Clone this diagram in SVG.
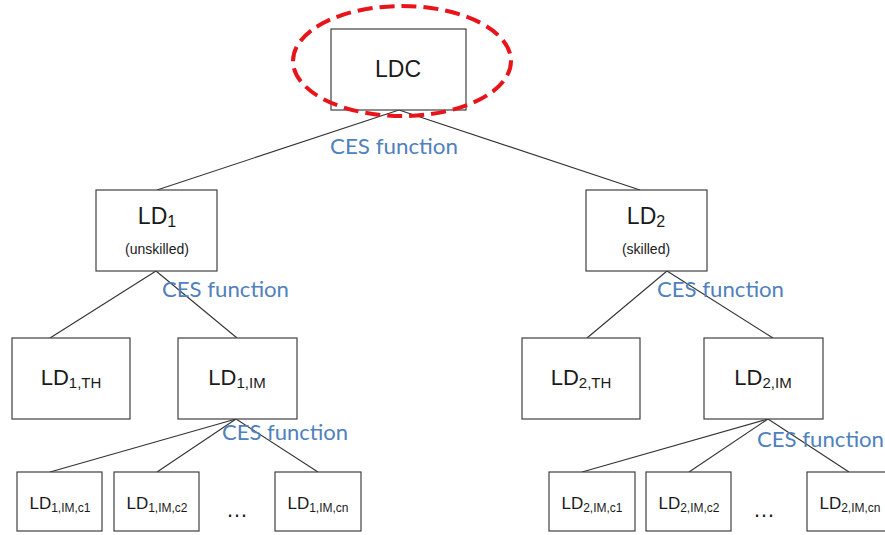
<svg xmlns="http://www.w3.org/2000/svg" width="885" height="535" viewBox="0 0 885 535">
<style>
.box{fill:#fff;stroke:#404040;stroke-width:1.2}
.lbl{font-family:"Liberation Sans",Arial,sans-serif;fill:#1a1a1a;text-anchor:middle}
.ces{font-family:Lato,"Open Sans",sans-serif;font-size:22px;fill:#4f81bd}
.conn line{stroke:#333;stroke-width:1.1}
</style>
<rect width="885" height="535" fill="#fff"/>
<g id="connectors" class="conn">
<line x1="399" y1="110" x2="157" y2="190"/>
<line x1="399" y1="110" x2="640" y2="190"/>
<line x1="156" y1="271" x2="50" y2="338"/>
<line x1="156" y1="271" x2="237" y2="338"/>
<line x1="667" y1="271" x2="587" y2="338"/>
<line x1="667" y1="271" x2="773" y2="338"/>
<line x1="236" y1="419" x2="50" y2="472"/>
<line x1="236" y1="419" x2="157" y2="472"/>
<line x1="236" y1="419" x2="318" y2="472"/>
<line x1="768" y1="419" x2="582" y2="472"/>
<line x1="768" y1="419" x2="689" y2="472"/>
<line x1="768" y1="419" x2="849" y2="472"/>
</g>
<g id="LDC">
<rect class="box" x="331" y="29" width="135" height="81"/>
<text class="lbl" x="398" y="77" font-size="23">LDC</text>
<ellipse cx="402" cy="61" rx="109" ry="55" fill="none" stroke="#e8141b" stroke-width="4" stroke-dasharray="15,7"/>
</g>
<g id="LD1">
<rect class="box" x="96" y="190" width="121" height="81"/>
<text class="lbl" x="157" y="224" font-size="23">LD<tspan font-size="16" dy="3">1</tspan></text>
<text class="lbl" x="157" y="254" font-size="14">(unskilled)</text>
</g>
<g id="LD2">
<rect class="box" x="586" y="190" width="121" height="81"/>
<text class="lbl" x="646" y="224" font-size="23">LD<tspan font-size="16" dy="3">2</tspan></text>
<text class="lbl" x="646" y="254" font-size="14">(skilled)</text>
</g>
<g id="LD1TH">
<rect class="box" x="12" y="338" width="118" height="81"/>
<text class="lbl" x="71" y="385" font-size="22">LD<tspan font-size="15" dy="3">1,TH</tspan></text>
</g>
<g id="LD1IM">
<rect class="box" x="178" y="338" width="119" height="81"/>
<text class="lbl" x="237" y="385" font-size="22">LD<tspan font-size="15" dy="3">1,IM</tspan></text>
</g>
<g id="LD2TH">
<rect class="box" x="522" y="338" width="118" height="81"/>
<text class="lbl" x="581" y="385" font-size="22">LD<tspan font-size="15" dy="3">2,TH</tspan></text>
</g>
<g id="LD2IM">
<rect class="box" x="704" y="338" width="119" height="81"/>
<text class="lbl" x="763" y="385" font-size="22">LD<tspan font-size="15" dy="3">2,IM</tspan></text>
</g>
<g id="LD1IMc1">
<rect class="box" x="17" y="472" width="85" height="59"/>
<text class="lbl" x="60" y="509" font-size="17">LD<tspan font-size="12" dy="3">1,IM,c1</tspan></text>
</g>
<g id="LD1IMc2">
<rect class="box" x="114" y="472" width="85" height="59"/>
<text class="lbl" x="157" y="509" font-size="17">LD<tspan font-size="12" dy="3">1,IM,c2</tspan></text>
</g>
<g id="LD1IMcn">
<rect class="box" x="275" y="472" width="86" height="59"/>
<text class="lbl" x="318" y="509" font-size="17">LD<tspan font-size="12" dy="3">1,IM,cn</tspan></text>
</g>
<g id="LD2IMc1">
<rect class="box" x="549" y="472" width="86" height="59"/>
<text class="lbl" x="592" y="509" font-size="17">LD<tspan font-size="12" dy="3">2,IM,c1</tspan></text>
</g>
<g id="LD2IMc2">
<rect class="box" x="646" y="472" width="85" height="59"/>
<text class="lbl" x="689" y="509" font-size="17">LD<tspan font-size="12" dy="3">2,IM,c2</tspan></text>
</g>
<g id="LD2IMcn">
<rect class="box" x="807" y="472" width="86" height="59"/>
<text class="lbl" x="850" y="509" font-size="17">LD<tspan font-size="12" dy="3">2,IM,cn</tspan></text>
</g>
<g id="dots">
<text class="lbl" x="237" y="517" font-size="22">…</text>
<text class="lbl" x="764" y="517" font-size="22">…</text>
</g>
<g id="labels">
<text class="ces" x="330" y="154" textLength="128" lengthAdjust="spacingAndGlyphs">CES function</text>
<text class="ces" x="162" y="297" textLength="127" lengthAdjust="spacingAndGlyphs">CES function</text>
<text class="ces" x="657" y="297" textLength="127" lengthAdjust="spacingAndGlyphs">CES function</text>
<text class="ces" x="222" y="440" textLength="126" lengthAdjust="spacingAndGlyphs">CES function</text>
<text class="ces" x="757" y="447" textLength="127" lengthAdjust="spacingAndGlyphs">CES function</text>
</g>
</svg>
